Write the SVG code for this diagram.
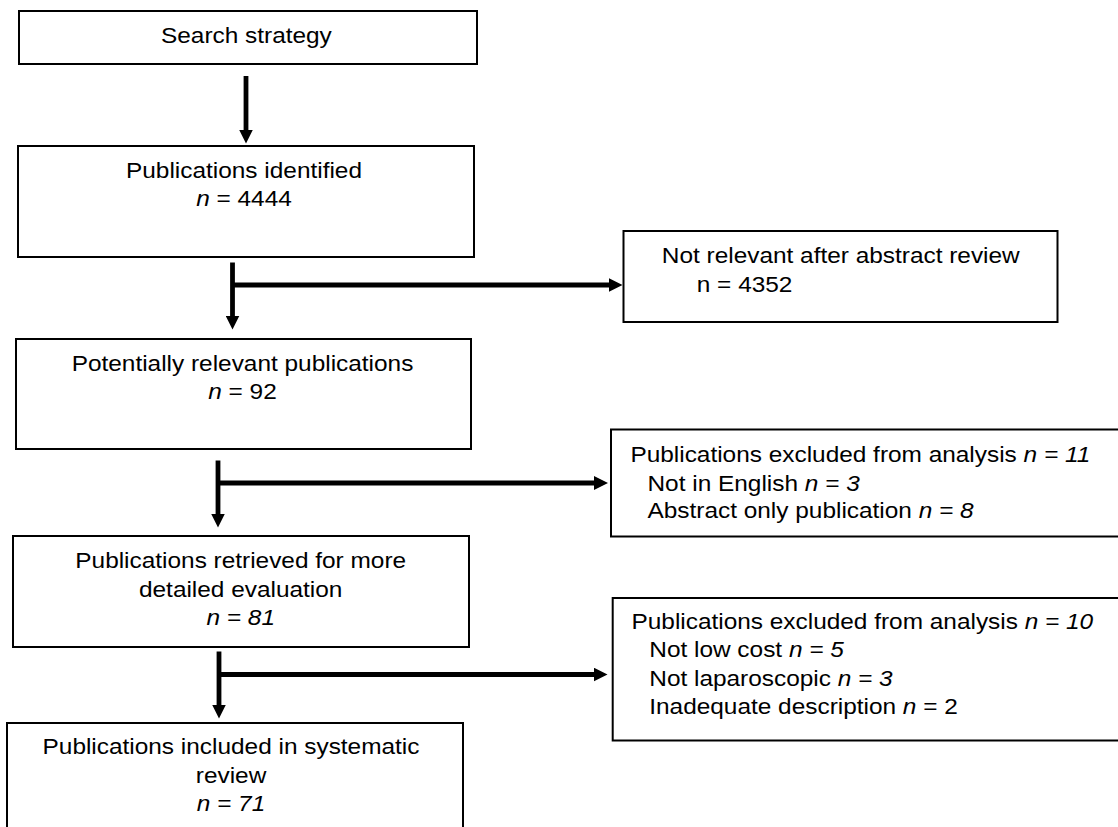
<svg xmlns="http://www.w3.org/2000/svg" width="1118" height="827" viewBox="0 0 1118 827">
<style>
.box{fill:#fff;stroke:#000;stroke-width:2}
.con{fill:none;stroke:#000;stroke-width:4.8}
text{font-family:"Liberation Sans",Arial,Helvetica,sans-serif;font-size:22.4px;fill:#000}
.c{text-anchor:middle}
.i{font-style:italic}
</style>
<defs>
<marker id="ah" markerUnits="userSpaceOnUse" viewBox="0 0 14 14" markerWidth="14" markerHeight="14" refX="1" refY="7" orient="auto">
<path d="M0,0 L14,7 L0,14 z" fill="#000"/>
</marker>
</defs>
<rect width="1118" height="827" fill="#fff"/>
<g id="connectors">
<path class="con" d="M246,76 V130.5" marker-end="url(#ah)"/>
<path class="con" d="M232.5,262.5 V316.5" marker-end="url(#ah)"/>
<path class="con" d="M232.5,285 H609.5" marker-end="url(#ah)"/>
<path class="con" d="M218,460.5 V514.5" marker-end="url(#ah)"/>
<path class="con" d="M218,483 H595" marker-end="url(#ah)"/>
<path class="con" d="M219,651.5 V705.5" marker-end="url(#ah)"/>
<path class="con" d="M219,674.5 H594.5" marker-end="url(#ah)"/>
</g>
<g id="search">
<rect class="box" x="19" y="11" width="458" height="53"/>
<text class="c" transform="translate(246.4,0) scale(1.09,1)" x="0" y="43">Search strategy</text>
</g>
<g id="identified">
<rect class="box" x="18" y="146" width="456" height="111"/>
<text class="c" transform="translate(244,0) scale(1.09,1)"><tspan x="0" y="178">Publications identified</tspan><tspan x="0" y="206"><tspan class="i">n</tspan> = 4444</tspan></text>
</g>
<g id="relevant">
<rect class="box" x="16" y="339" width="455" height="110"/>
<text class="c" transform="translate(242.5,0) scale(1.09,1)"><tspan x="0" y="371">Potentially relevant publications</tspan><tspan x="0" y="399"><tspan class="i">n</tspan> = 92</tspan></text>
</g>
<g id="retrieved">
<rect class="box" x="13" y="536" width="456" height="111"/>
<text class="c" transform="translate(240.7,0) scale(1.09,1)"><tspan x="0" y="568">Publications retrieved for more</tspan><tspan x="0" y="597">detailed evaluation</tspan><tspan x="0" y="625" class="i">n = 81</tspan></text>
</g>
<g id="included">
<rect class="box" x="7" y="723" width="456" height="120"/>
<text class="c" transform="translate(231,0) scale(1.09,1)"><tspan x="0" y="754">Publications included in systematic</tspan><tspan x="0" y="783">review</tspan><tspan x="0" y="811" class="i">n = 71</tspan></text>
</g>
<g id="not-relevant">
<rect class="box" x="623.5" y="231" width="434" height="91"/>
<text transform="translate(661.8,0) scale(1.09,1)"><tspan x="0" y="263">Not relevant after abstract review</tspan><tspan x="32.1" y="292">n = 4352</tspan></text>
</g>
<g id="excluded-11">
<rect class="box" x="611" y="429.5" width="530" height="107"/>
<text transform="translate(630.4,0) scale(1.09,1)"><tspan x="0" y="462">Publications excluded from analysis <tspan class="i">n = 11</tspan></tspan><tspan x="15.7" y="491">Not in English <tspan class="i">n = 3</tspan></tspan><tspan x="15.7" y="518.5">Abstract only publication <tspan class="i">n = 8</tspan></tspan></text>
</g>
<g id="excluded-10">
<rect class="box" x="612.7" y="598" width="530" height="142.5"/>
<text transform="translate(631.5,0) scale(1.09,1)"><tspan x="0" y="629">Publications excluded from analysis <tspan class="i">n = 10</tspan></tspan><tspan x="16.3" y="657">Not low cost <tspan class="i">n = 5</tspan></tspan><tspan x="16.3" y="686">Not laparoscopic <tspan class="i">n = 3</tspan></tspan><tspan x="16.3" y="714.5">Inadequate description <tspan class="i">n</tspan> = 2</tspan></text>
</g>
</svg>
